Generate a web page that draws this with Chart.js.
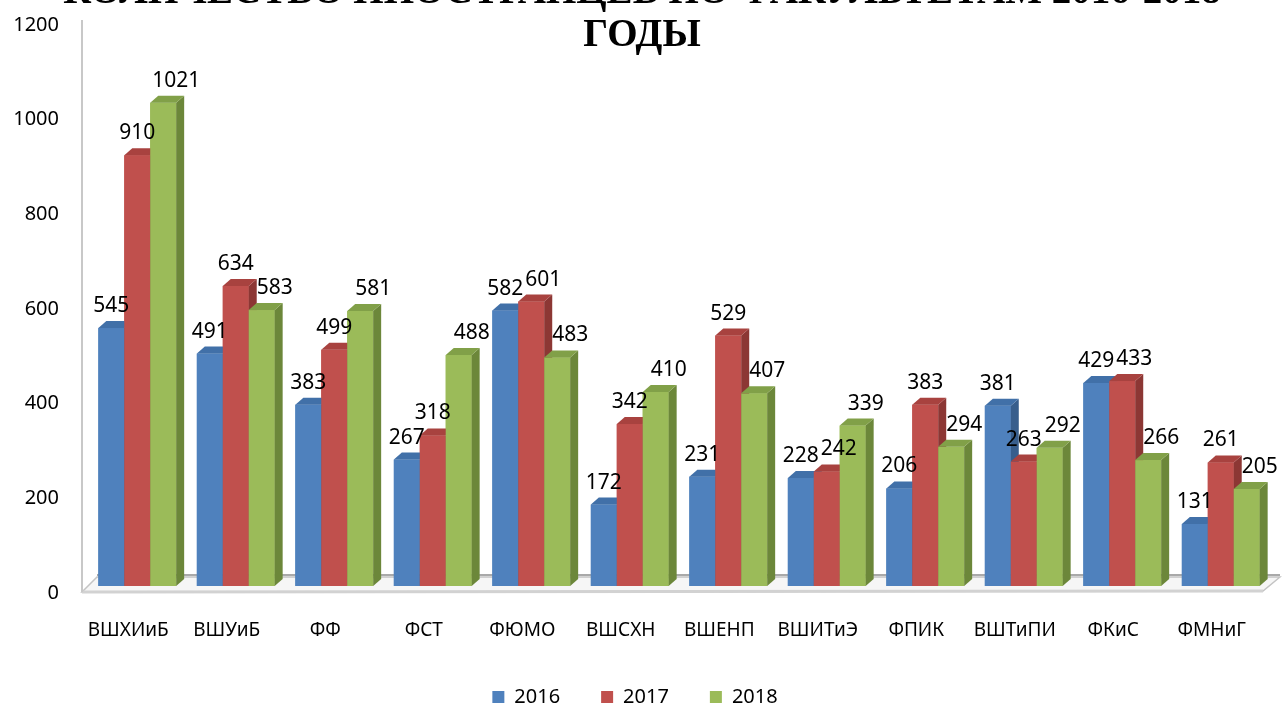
<!DOCTYPE html>
<html>
<head>
<meta charset="utf-8">
<script src="https://cdn.jsdelivr.net/npm/chart.js@4/dist/chart.umd.min.js"></script>
<style>
    html, body { margin: 0; padding: 0; background: #fff; overflow: hidden; }
    #wrap { width: 1282px; height: 711px; }
</style>
</head>
<body>
<div id="wrap"><canvas id="chart"></canvas></div>
<script>
// chart data
const categories = ['ВШХИиБ', 'ВШУиБ', 'ФФ', 'ФСТ', 'ФЮМО', 'ВШСХН', 'ВШЕНП', 'ВШИТиЭ', 'ФПИК', 'ВШТиПИ', 'ФКиС', 'ФМНиГ'];
const seriesNames = ['2016', '2017', '2018'];
const values2016 = [545, 491, 383, 267, 582, 172, 231, 228, 206, 381, 429, 131];
const values2017 = [910, 634, 499, 318, 601, 342, 529, 242, 383, 263, 433, 261];
const values2018 = [1021, 583, 581, 488, 483, 410, 407, 339, 294, 292, 266, 205];
const yTicks = [0, 200, 400, 600, 800, 1000, 1200];
const titleLines = ['КОЛИЧЕСТВО ИНОСТРАНЦЕВ ПО ФАКУЛЬТЕТАМ 2016-2018', 'ГОДЫ'];

// colours: front, side, top
const faces = [
    ['#4F81BD', '#385E8C', '#4170A8'],
    ['#C0504D', '#8C3734', '#A8423F'],
    ['#9BBB59', '#6C873A', '#81A048']
];
const labelShift = [0, 0, 13];
const DX = 8, DY = 7;
const FONT = '"Noto Sans", "Open Sans", sans-serif';

// floor and back wall, drawn under the bars
const floorPlugin = {
    id: 'floor',
    beforeDatasetsDraw(chart) {
        const ctx = chart.ctx;
        const a = chart.chartArea;
        ctx.save();
        ctx.fillStyle = '#f6f6f6';
        ctx.beginPath();
        ctx.moveTo(a.left - 6, a.bottom + 6);
        ctx.lineTo(a.right - 7, a.bottom + 5);
        ctx.lineTo(a.right + 10, a.bottom - 9);
        ctx.lineTo(a.left + 9, a.bottom - 9);
        ctx.closePath();
        ctx.fill();
        ctx.strokeStyle = '#c4c4c4';
        ctx.lineWidth = 1.5;
        ctx.stroke();
        // front edge
        ctx.strokeStyle = '#d2d2d2';
        ctx.lineWidth = 3;
        ctx.beginPath();
        ctx.moveTo(a.left - 6, a.bottom + 6);
        ctx.lineTo(a.right - 7, a.bottom + 5);
        ctx.stroke();
        // back bottom line
        ctx.strokeStyle = '#8c8c8c';
        ctx.lineWidth = 1.5;
        ctx.beginPath();
        ctx.moveTo(a.left + 9, a.bottom - 11);
        ctx.lineTo(a.right + 10, a.bottom - 11);
        ctx.stroke();
        // left wall
        ctx.strokeStyle = '#c8c8c8';
        ctx.lineWidth = 2;
        ctx.beginPath();
        ctx.moveTo(a.left - 6, a.top + 2);
        ctx.lineTo(a.left - 6, a.bottom + 6);
        ctx.stroke();
        ctx.restore();
    }
};

// redraw bars with side and top faces, in series order
const bars3dPlugin = {
    id: 'bars3d',
    afterDatasetsDraw(chart) {
        const ctx = chart.ctx;
        ctx.save();
        chart.data.datasets.forEach((ds, di) => {
            const meta = chart.getDatasetMeta(di);
            meta.data.forEach((bar) => {
                const p = bar.getProps(['x', 'y', 'base', 'width'], true);
                const l = p.x - p.width / 2, r = p.x + p.width / 2;
                ctx.fillStyle = faces[di][0];
                ctx.fillRect(l, p.y, p.width, p.base - p.y);
                // side
                ctx.fillStyle = faces[di][1];
                ctx.beginPath();
                ctx.moveTo(r, p.y);
                ctx.lineTo(r + DX, p.y - DY);
                ctx.lineTo(r + DX, p.base - DY);
                ctx.lineTo(r, p.base);
                ctx.closePath();
                ctx.fill();
                // top
                ctx.fillStyle = faces[di][2];
                ctx.beginPath();
                ctx.moveTo(l, p.y);
                ctx.lineTo(l + DX, p.y - DY);
                ctx.lineTo(r + DX, p.y - DY);
                ctx.lineTo(r, p.y);
                ctx.closePath();
                ctx.fill();
            });
        });

        // value labels, pushed right when they would overlap the previous one
        ctx.fillStyle = '#000';
        ctx.font = '21px ' + FONT;
        ctx.textAlign = 'center';
        ctx.textBaseline = 'alphabetic';
        const n = chart.data.labels.length;
        for (let i = 0; i < n; i++) {
            let prev = null;
            chart.data.datasets.forEach((ds, di) => {
                const bar = chart.getDatasetMeta(di).data[i];
                const p = bar.getProps(['x', 'y'], true);
                const text = String(ds.data[i]);
                const w = ctx.measureText(text).width;
                let x = p.x + labelShift[di];
                const y = p.y - 16;
                if (prev && Math.abs(prev.y - y) < 20 && x - w / 2 < prev.right + 2) {
                    x = prev.right + 2 + w / 2;
                }
                ctx.fillText(text, x, y);
                prev = { right: x + w / 2, y: y };
            });
        }
        ctx.restore();
    }
};

const titlePlugin = {
    id: 'cutTitle',
    afterDraw(chart) {
        const ctx = chart.ctx;
        ctx.save();
        ctx.fillStyle = '#000';
        ctx.font = 'bold 39px "Liberation Serif", "Times New Roman", serif';
        ctx.textAlign = 'center';
        ctx.textBaseline = 'alphabetic';
        ctx.fillText(titleLines[0], 642, 3);
        ctx.fillText(titleLines[1], 642, 46);
        ctx.restore();
    }
};

const data = {
    labels: categories,
    datasets: [
        { label: seriesNames[0], data: values2016, backgroundColor: faces[0][0] },
        { label: seriesNames[1], data: values2017, backgroundColor: faces[1][0] },
        { label: seriesNames[2], data: values2018, backgroundColor: faces[2][0] }
    ]
};

const config = {
    type: 'bar',
    data: data,
    options: {
        responsive: true,
        maintainAspectRatio: false,
        animation: false,
        layout: { padding: { left: 0, right: 12, top: 18, bottom: -6 } },
        datasets: { bar: { barPercentage: 1, categoryPercentage: 0.79 } },
        scales: {
            x: {
                grid: { display: false, drawTicks: false },
                border: { display: false },
                ticks: {
                    color: '#000',
                    font: { size: 19, family: FONT },
                    padding: 33,
                    labelOffset: -9,
                    maxRotation: 0,
                    autoSkip: false
                },
                afterFit(scale) {
                    scale.height = 60;
                    scale.paddingLeft = 0;
                    scale.paddingRight = 0;
                }
            },
            y: {
                min: yTicks[0],
                max: yTicks[yTicks.length - 1],
                grid: { display: false, drawTicks: false },
                border: { display: false },
                afterBuildTicks(scale) { scale.ticks = yTicks.map(v => ({ value: v })); },
                ticks: {
                    color: '#000',
                    font: { size: 20, family: FONT },
                    padding: 29,
                    labelOffset: 7,
                    callback: (v) => String(v)
                },
                afterFit(scale) {
                    scale.width = 88;
                    scale.paddingTop = 0;
                    scale.paddingBottom = 0;
                }
            }
        },
        plugins: {
            legend: {
                position: 'bottom',
                labels: {
                    color: '#000',
                    font: { size: 20, family: FONT },
                    boxWidth: 12,
                    boxHeight: 12,
                    padding: 41
                }
            },
            title: { display: false },
            tooltip: { enabled: false }
        }
    },
    plugins: [floorPlugin, bars3dPlugin, titlePlugin]
};

let chart = new Chart(document.getElementById('chart'), config);
</script>
</body>
</html>
